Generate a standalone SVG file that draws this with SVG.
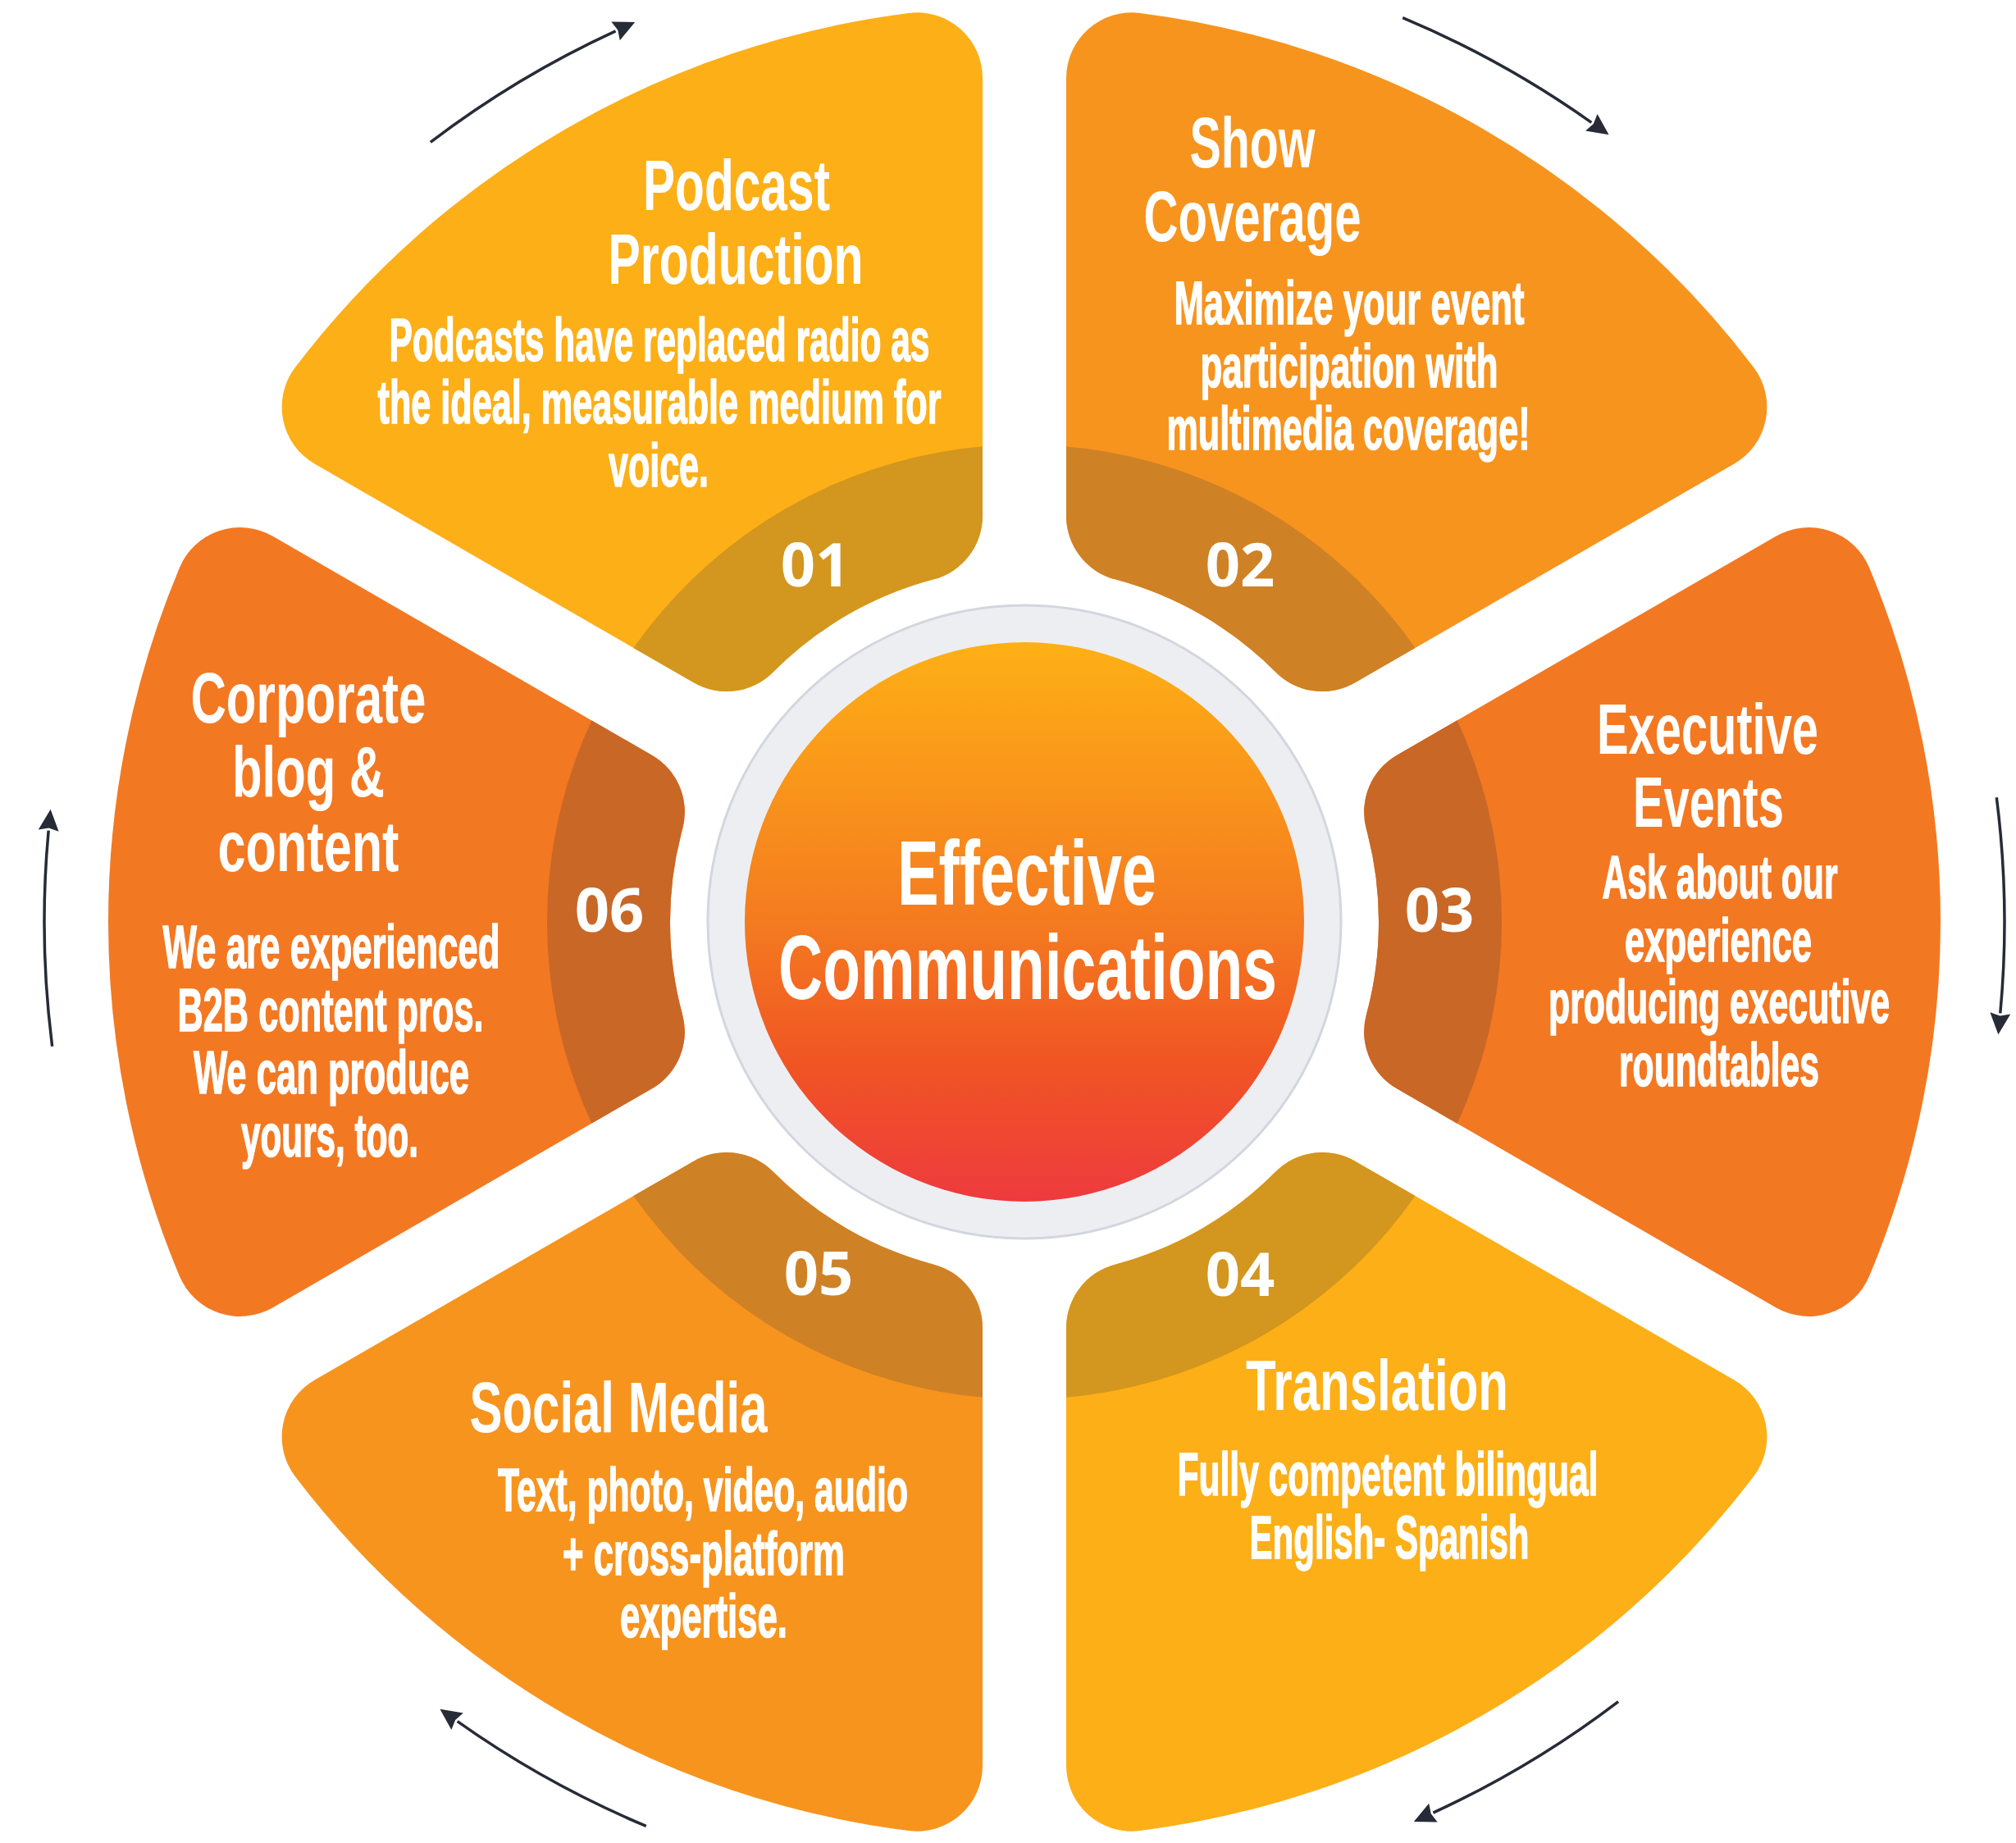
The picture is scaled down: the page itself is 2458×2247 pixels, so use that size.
<svg xmlns="http://www.w3.org/2000/svg" xmlns:xlink="http://www.w3.org/1999/xlink" width="2458" height="2247" viewBox="0 0 2458 2247">
  <style>
    .t { font-family: "Liberation Sans Narrow", "Liberation Sans", Roboto, sans-serif; font-weight: bold; font-size: 88px; fill: #ffffff; text-anchor: middle; }
    .b { font-family: "Liberation Sans Narrow", "Liberation Sans", Roboto, sans-serif; font-weight: bold; font-size: 75px; fill: #ffffff; stroke: #ffffff; stroke-width: 1.6px; text-anchor: middle; }
    .c { font-family: "Liberation Sans Narrow", "Liberation Sans", Roboto, sans-serif; font-weight: bold; font-size: 112px; fill: #ffffff; text-anchor: middle; }
    .n { font-family: "Open Sans", "Noto Sans", sans-serif; font-weight: 700; font-size: 74px; fill: #ffffff; text-anchor: middle; }
    .arrow { fill: none; stroke: #262b37; stroke-width: 3.5; marker-end: url(#head); }
    .yel { fill: #fdaf17; } .yel-d { fill: #d3961e; }
    .org { fill: #f7941e; } .org-d { fill: #cf8125; }
    .red { fill: #f37822; } .red-d { fill: #c96727; }
  </style>
  <defs>
    <!-- one segment of the ring, pointing along +x around the origin -->
    <path id="petal" d="M1030.15,-431.83 A1117,1117 0 0 1 1030.15,431.83 A80,80 0 0 1 916.37,470.18 L454.15,203.31 A80,80 0 0 1 416.94,113.09 A432,432 0 0 0 416.94,-113.09 A80,80 0 0 1 454.15,-203.31 L916.37,-470.18 A80,80 0 0 1 1030.15,-431.83 Z"/>
    <clipPath id="band" clipPathUnits="userSpaceOnUse">
      <circle cx="0" cy="0" r="582"/>
    </clipPath>
    <linearGradient id="core" x1="0" y1="0" x2="0" y2="1">
      <stop offset="0" stop-color="#feb015"/>
      <stop offset="0.5" stop-color="#f47b20"/>
      <stop offset="0.75" stop-color="#f05523"/>
      <stop offset="1" stop-color="#ee3a3e"/>
    </linearGradient>
    <marker id="head" markerUnits="userSpaceOnUse" viewBox="-2 -14 30 28" markerWidth="30" markerHeight="28" refX="0" refY="0" orient="auto">
      <path d="M0,-12.5 L26,0 L0,12.5 L3,0 Z" fill="#262b37"/>
    </marker>
  </defs>

  <rect width="2458" height="2247" fill="#ffffff"/>

  <!-- clockwise arrows around the ring -->
  <g id="connectors">
    <path class="arrow" d="M1185.3,-151.8 A1195,1195 0 0 1 1189.8,111.4" transform="translate(1249 1124) rotate(-120)"/>
    <path class="arrow" d="M1185.3,-151.8 A1195,1195 0 0 1 1189.8,111.4" transform="translate(1249 1124) rotate(-60)"/>
    <path class="arrow" d="M1185.3,-151.8 A1195,1195 0 0 1 1189.8,111.4" transform="translate(1249 1124)"/>
    <path class="arrow" d="M1185.3,-151.8 A1195,1195 0 0 1 1189.8,111.4" transform="translate(1249 1124) rotate(60)"/>
    <path class="arrow" d="M1185.3,-151.8 A1195,1195 0 0 1 1189.8,111.4" transform="translate(1249 1124) rotate(120)"/>
    <path class="arrow" d="M1185.3,-151.8 A1195,1195 0 0 1 1189.8,111.4" transform="translate(1249 1124) rotate(180)"/>
  </g>

  <!-- 01 Podcast Production -->
  <g id="node-01">
    <g transform="translate(1249 1124) rotate(-120)">
      <use xlink:href="#petal" class="yel"/>
      <use xlink:href="#petal" class="yel-d" clip-path="url(#band)"/>
    </g>
    <text class="t" x="898" y="256" textLength="228" lengthAdjust="spacingAndGlyphs">Podcast</text>
    <text class="t" x="897" y="346" textLength="311" lengthAdjust="spacingAndGlyphs">Production</text>
    <text class="b" x="804" y="440" textLength="659" lengthAdjust="spacingAndGlyphs">Podcasts have replaced radio as</text>
    <text class="b" x="804" y="516" textLength="687" lengthAdjust="spacingAndGlyphs">the ideal, measurable medium for</text>
    <text class="b" x="803" y="593" textLength="122" lengthAdjust="spacingAndGlyphs">voice.</text>
    <text class="n" x="994" y="715">01</text>
  </g>

  <!-- 02 Show Coverage -->
  <g id="node-02">
    <g transform="translate(1249 1124) rotate(-60)">
      <use xlink:href="#petal" class="org"/>
      <use xlink:href="#petal" class="org-d" clip-path="url(#band)"/>
    </g>
    <text class="t" x="1527" y="204" textLength="153" lengthAdjust="spacingAndGlyphs">Show</text>
    <text class="t" x="1527" y="294" textLength="265" lengthAdjust="spacingAndGlyphs">Coverage</text>
    <text class="b" x="1645" y="395" textLength="427" lengthAdjust="spacingAndGlyphs">Maximize your event</text>
    <text class="b" x="1645" y="472" textLength="363" lengthAdjust="spacingAndGlyphs">participation with</text>
    <text class="b" x="1644" y="548" textLength="443" lengthAdjust="spacingAndGlyphs">multimedia coverage!</text>
    <text class="n" x="1512" y="715">02</text>
  </g>

  <!-- 03 Executive Events -->
  <g id="node-03">
    <g transform="translate(1249 1124)">
      <use xlink:href="#petal" class="red"/>
      <use xlink:href="#petal" class="red-d" clip-path="url(#band)"/>
    </g>
    <text class="t" x="2082" y="919" textLength="270" lengthAdjust="spacingAndGlyphs">Executive</text>
    <text class="t" x="2083" y="1008" textLength="184" lengthAdjust="spacingAndGlyphs">Events</text>
    <text class="b" x="2097" y="1095" textLength="287" lengthAdjust="spacingAndGlyphs">Ask about our</text>
    <text class="b" x="2095" y="1172" textLength="228" lengthAdjust="spacingAndGlyphs">experience</text>
    <text class="b" x="2096" y="1247" textLength="416" lengthAdjust="spacingAndGlyphs">producing executive</text>
    <text class="b" x="2096" y="1324" textLength="244" lengthAdjust="spacingAndGlyphs">roundtables</text>
    <text class="n" x="1755" y="1136">03</text>
  </g>

  <!-- 04 Translation -->
  <g id="node-04">
    <g transform="translate(1249 1124) rotate(60)">
      <use xlink:href="#petal" class="yel"/>
      <use xlink:href="#petal" class="yel-d" clip-path="url(#band)"/>
    </g>
    <text class="t" x="1679" y="1719" textLength="320" lengthAdjust="spacingAndGlyphs">Translation</text>
    <text class="b" x="1692" y="1823" textLength="513" lengthAdjust="spacingAndGlyphs">Fully competent bilingual</text>
    <text class="b" x="1694" y="1900" textLength="341" lengthAdjust="spacingAndGlyphs">English- Spanish</text>
    <text class="n" x="1512" y="1580">04</text>
  </g>

  <!-- 05 Social Media -->
  <g id="node-05">
    <g transform="translate(1249 1124) rotate(120)">
      <use xlink:href="#petal" class="org"/>
      <use xlink:href="#petal" class="org-d" clip-path="url(#band)"/>
    </g>
    <text class="t" x="754" y="1746" textLength="363" lengthAdjust="spacingAndGlyphs">Social Media</text>
    <text class="b" x="857" y="1842" textLength="500" lengthAdjust="spacingAndGlyphs">Text, photo, video, audio</text>
    <text class="b" x="858" y="1920" textLength="344" lengthAdjust="spacingAndGlyphs">+ cross-platform</text>
    <text class="b" x="858" y="1996" textLength="204" lengthAdjust="spacingAndGlyphs">expertise.</text>
    <text class="n" x="998" y="1579">05</text>
  </g>

  <!-- 06 Corporate blog & content -->
  <g id="node-06">
    <g transform="translate(1249 1124) rotate(180)">
      <use xlink:href="#petal" class="red"/>
      <use xlink:href="#petal" class="red-d" clip-path="url(#band)"/>
    </g>
    <text class="t" x="376" y="881" textLength="287" lengthAdjust="spacingAndGlyphs">Corporate</text>
    <text class="t" x="376" y="971" textLength="186" lengthAdjust="spacingAndGlyphs">blog &amp;</text>
    <text class="t" x="376" y="1062" textLength="221" lengthAdjust="spacingAndGlyphs">content</text>
    <text class="b" x="404" y="1180" textLength="411" lengthAdjust="spacingAndGlyphs">We are experienced</text>
    <text class="b" x="403" y="1257" textLength="373" lengthAdjust="spacingAndGlyphs">B2B content pros.</text>
    <text class="b" x="404" y="1333" textLength="336" lengthAdjust="spacingAndGlyphs">We can produce</text>
    <text class="b" x="402" y="1410" textLength="216" lengthAdjust="spacingAndGlyphs">yours, too.</text>
    <text class="n" x="743" y="1136">06</text>
  </g>

  <!-- hub -->
  <g id="hub">
    <circle cx="1249" cy="1124" r="386" fill="#edeef2" stroke="#d3d6df" stroke-width="3"/>
    <circle cx="1249" cy="1124" r="341" fill="url(#core)"/>
    <text class="c" x="1252" y="1103" textLength="316" lengthAdjust="spacingAndGlyphs">Effective</text>
    <text class="c" x="1253" y="1218" textLength="608" lengthAdjust="spacingAndGlyphs">Communications</text>
  </g>
</svg>
